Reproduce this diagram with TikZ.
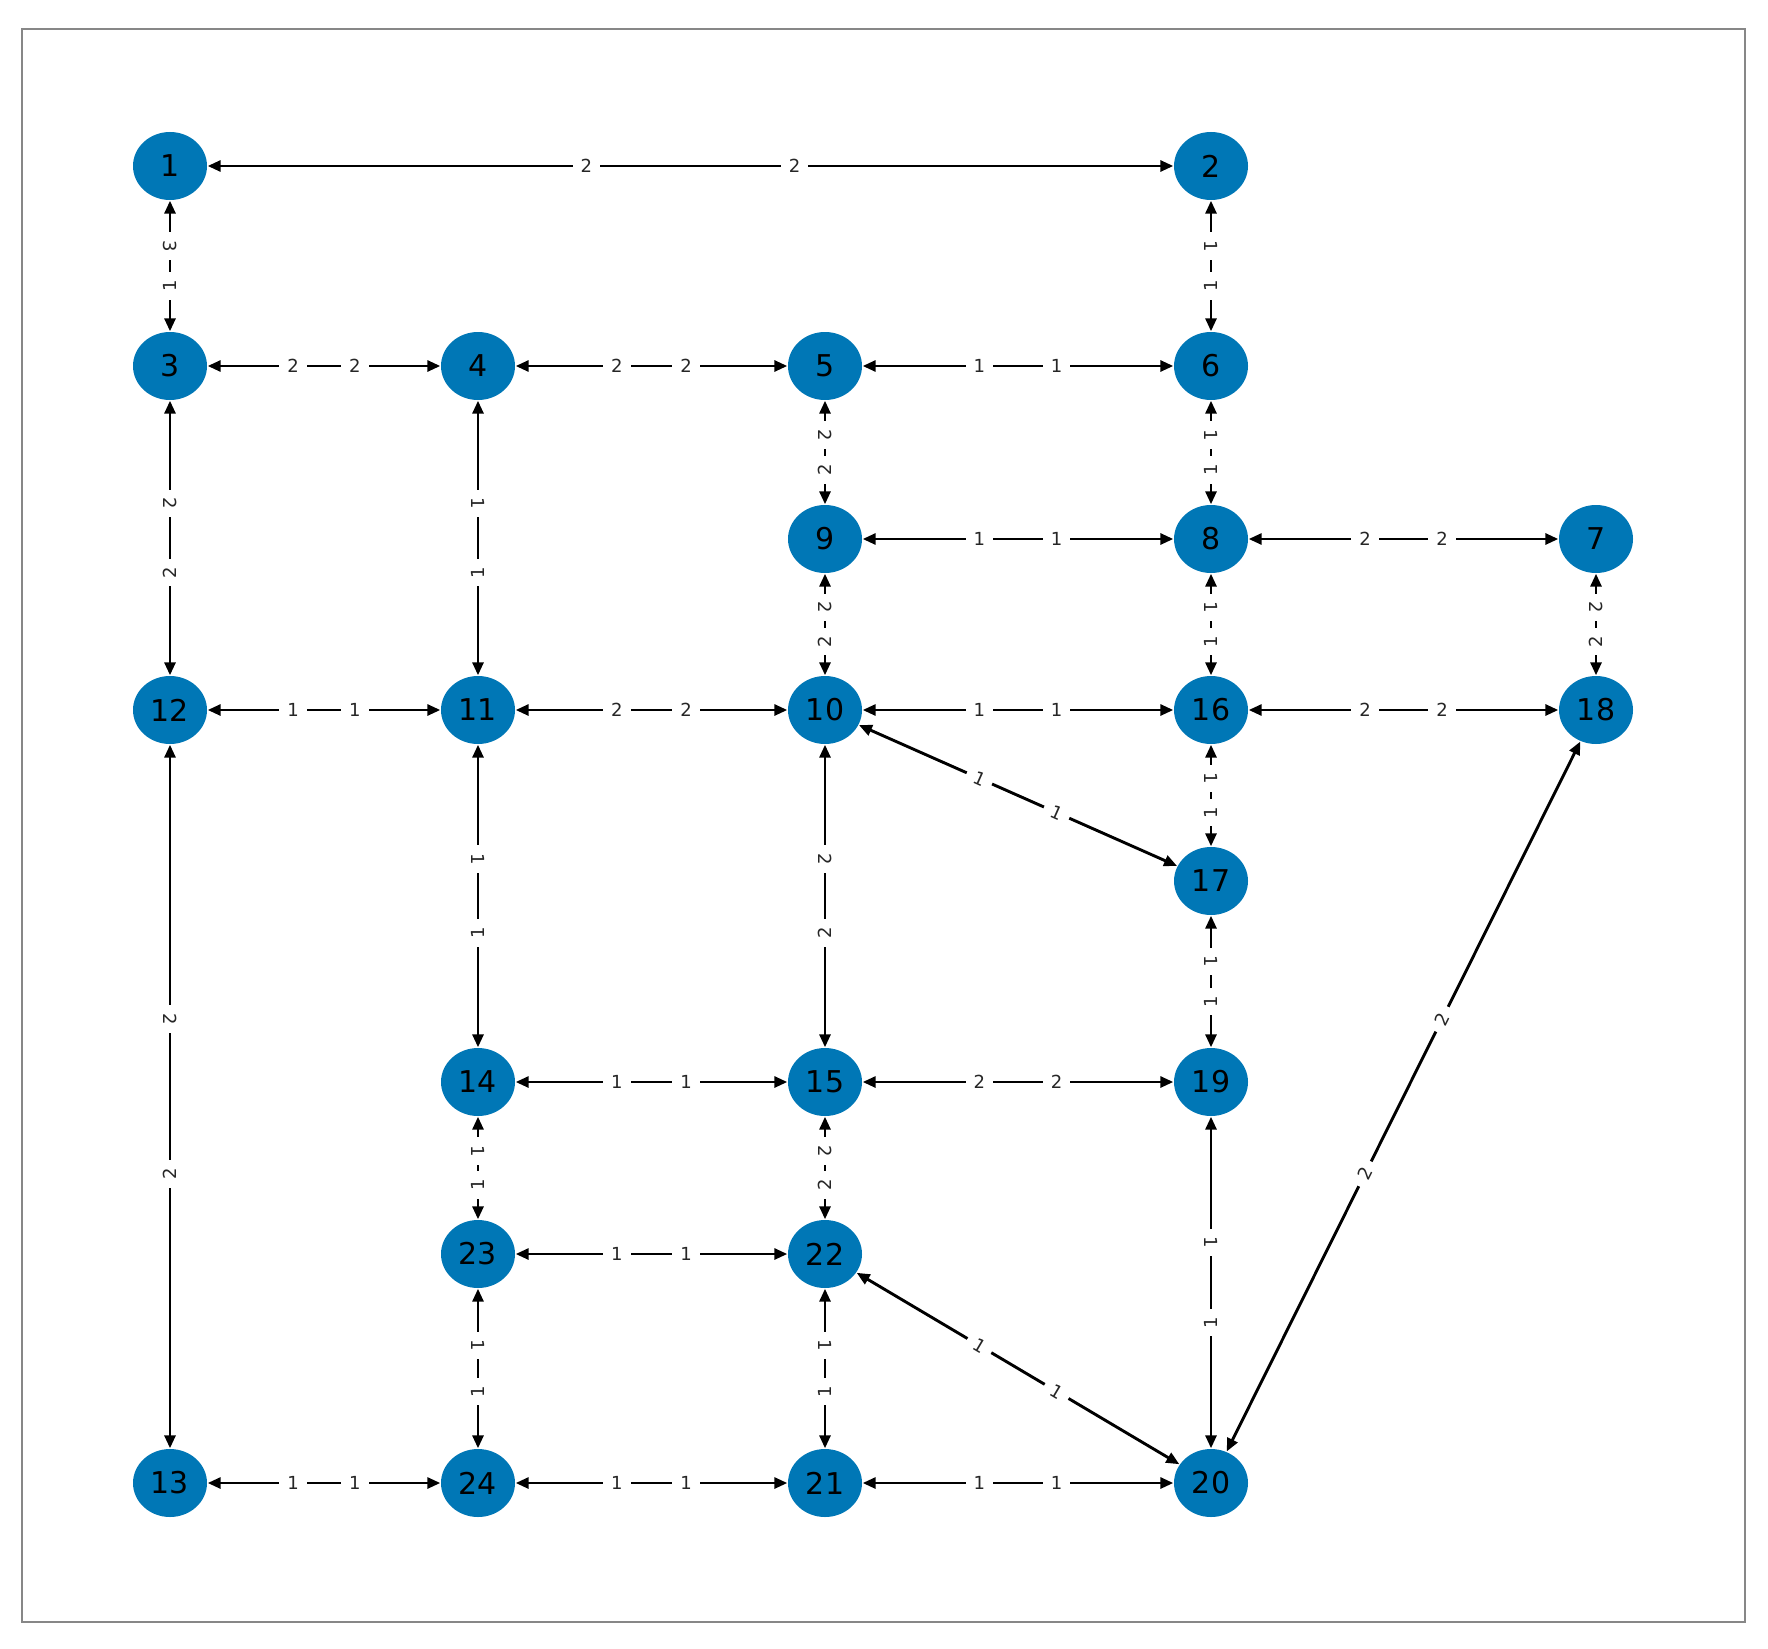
\documentclass[tikz,border=0pt]{standalone}
\usepackage{fontspec}
\setmainfont{DejaVu Sans}
\usetikzlibrary{arrows.meta,calc,shapes.geometric}
\definecolor{nodeblue}{RGB}{0,119,182}
\definecolor{framegray}{RGB}{135,135,135}
\tikzset{
  vtx/.style={ellipse, fill=nodeblue, draw=none, minimum width=74pt, minimum height=68pt, inner sep=0pt, font=\fontsize{30}{36}\selectfont, text=black},
  edge/.style={line width=2.9pt, black, {Triangle[length=13pt,width=11pt]}-{Triangle[length=13pt,width=11pt]}, shorten <=0.5pt, shorten >=0.5pt},
  elab/.style={fill=white, inner xsep=8pt, inner ysep=2pt, font=\fontsize{18}{20}\selectfont, text=black!85},
  frm/.style={draw=framegray, line width=2.8pt}
}
\newcommand\HEdge[4]{\draw[edge] (#1) -- (#2);
  \node[elab] at ($(#1.center)!0.4!(#2.center)$) {#3};
  \node[elab] at ($(#1.center)!0.6!(#2.center)$) {#4};}
\newcommand\VEdge[4]{\draw[edge] (#1) -- (#2);
  \node[elab,rotate=-90] at ($(#1.center)!0.4!(#2.center)$) {#3};
  \node[elab,rotate=90] at ($(#1.center)!0.6!(#2.center)$) {#4};}
\newcommand\DEdge[4]{\draw[edge] (#1) -- (#2);
  \path (#1.center) -- node[elab,sloped,pos=0.4]{#3} node[elab,sloped,pos=0.6]{#4} (#2.center);}
\begin{document}
\begin{tikzpicture}[x=1pt,y=-1pt]
\useasboundingbox (0,0) rectangle (1768,1648);
\fill[white] (0,0) rectangle (1768,1648);
\draw[frm] (22,29) rectangle (1745,1622);
% nodes
\node[vtx] (n1) at (170,166) {1};
\node[vtx] (n2) at (1211,166) {2};
\node[vtx] (n3) at (170,366) {3};
\node[vtx] (n4) at (478,366) {4};
\node[vtx] (n5) at (825,366) {5};
\node[vtx] (n6) at (1211,366) {6};
\node[vtx] (n9) at (825,539) {9};
\node[vtx] (n8) at (1211,539) {8};
\node[vtx] (n7) at (1596,539) {7};
\node[vtx] (n12) at (170,710) {12};
\node[vtx] (n11) at (478,710) {11};
\node[vtx] (n10) at (825,710) {10};
\node[vtx] (n16) at (1211,710) {16};
\node[vtx] (n18) at (1596,710) {18};
\node[vtx] (n17) at (1211,881) {17};
\node[vtx] (n14) at (478,1082) {14};
\node[vtx] (n15) at (825,1082) {15};
\node[vtx] (n19) at (1211,1082) {19};
\node[vtx] (n23) at (478,1254) {23};
\node[vtx] (n22) at (825,1254) {22};
\node[vtx] (n13) at (170,1483) {13};
\node[vtx] (n24) at (478,1483) {24};
\node[vtx] (n21) at (825,1483) {21};
\node[vtx] (n20) at (1211,1483) {20};
% edges
\HEdge{n1}{n2}{2}{2}
\VEdge{n1}{n3}{3}{1}
\VEdge{n2}{n6}{1}{1}
\HEdge{n3}{n4}{2}{2}
\HEdge{n4}{n5}{2}{2}
\HEdge{n5}{n6}{1}{1}
\VEdge{n5}{n9}{2}{2}
\VEdge{n6}{n8}{1}{1}
\HEdge{n9}{n8}{1}{1}
\HEdge{n8}{n7}{2}{2}
\VEdge{n3}{n12}{2}{2}
\VEdge{n4}{n11}{1}{1}
\VEdge{n9}{n10}{2}{2}
\VEdge{n8}{n16}{1}{1}
\VEdge{n7}{n18}{2}{2}
\HEdge{n12}{n11}{1}{1}
\HEdge{n11}{n10}{2}{2}
\HEdge{n10}{n16}{1}{1}
\HEdge{n16}{n18}{2}{2}
\DEdge{n10}{n17}{1}{1}
\VEdge{n16}{n17}{1}{1}
\VEdge{n12}{n13}{2}{2}
\VEdge{n11}{n14}{1}{1}
\VEdge{n10}{n15}{2}{2}
\VEdge{n17}{n19}{1}{1}
\HEdge{n14}{n15}{1}{1}
\HEdge{n15}{n19}{2}{2}
\VEdge{n14}{n23}{1}{1}
\VEdge{n15}{n22}{2}{2}
\VEdge{n19}{n20}{1}{1}
\DEdge{n18}{n20}{2}{2}
\HEdge{n23}{n22}{1}{1}
\DEdge{n22}{n20}{1}{1}
\VEdge{n23}{n24}{1}{1}
\VEdge{n22}{n21}{1}{1}
\HEdge{n13}{n24}{1}{1}
\HEdge{n24}{n21}{1}{1}
\HEdge{n21}{n20}{1}{1}
\end{tikzpicture}
\end{document}
